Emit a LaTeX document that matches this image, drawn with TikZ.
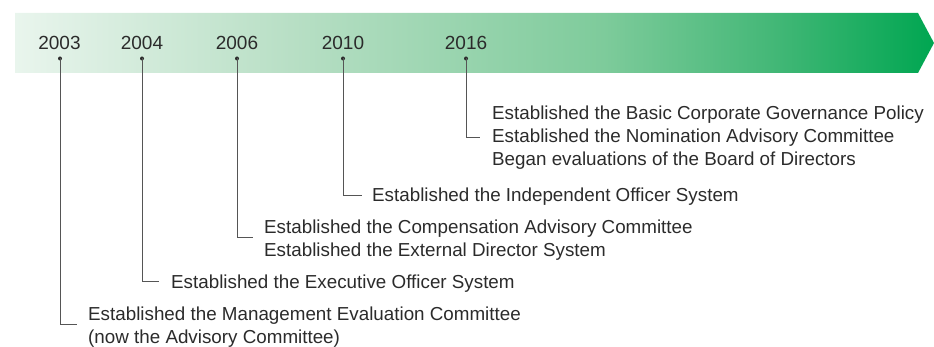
\documentclass[tikz,border=0pt]{standalone}
\usepackage{fontspec}
\setmainfont{Liberation Sans}
\definecolor{gA}{HTML}{E9F5ED}
\definecolor{gB}{HTML}{B8DFC5}
\definecolor{gC}{HTML}{7ECB9B}
\definecolor{gD}{HTML}{45B878}
\definecolor{gE}{HTML}{00A651}
\definecolor{txt}{HTML}{2B2B2B}
\definecolor{ln}{HTML}{555555}
\pgfdeclarehorizontalshading{bandshade}{100bp}{color(0bp)=(gA); color(25bp)=(gA); color(40bp)=(gB); color(57bp)=(gC); color(66bp)=(gD); color(75bp)=(gE); color(100bp)=(gE)}
\begin{document}
\begin{tikzpicture}[x=1pt,y=-1pt,
  year/.style={font=\fontsize{19}{22}\selectfont, text=txt, inner sep=0pt, anchor=base},
  event/.style={font=\fontsize{18.8}{23}\selectfont, text=txt, inner sep=0pt, anchor=base west, align=left},
  dot/.style={circle, fill=txt, inner sep=0pt, minimum size=4pt},
  conn/.style={draw=ln, line width=0.9pt}]
\useasboundingbox (0,0) rectangle (934,347);
\path[shading=bandshade] (15,13) -- (918,13) -- (934,43) -- (918,73) -- (15,73) -- cycle;
% years
\node[year] (y2003) at (59.5,50) {2003};
\node[year] (y2004) at (142,50) {2004};
\node[year] (y2006) at (237,50) {2006};
\node[year] (y2010) at (343,50) {2010};
\node[year] (y2016) at (466,50) {2016};
% dots
\node[dot] (d2003) at (60,58.5) {};
\node[dot] (d2004) at (142,58.5) {};
\node[dot] (d2006) at (237,58.5) {};
\node[dot] (d2010) at (343,58.5) {};
\node[dot] (d2016) at (466,58.5) {};
% corners and ends
\coordinate (c2003) at (60,324);   \coordinate (e2003) at (77,324);
\coordinate (c2004) at (142,281);  \coordinate (e2004) at (159,281);
\coordinate (c2006) at (237,237);  \coordinate (e2006) at (253,237);
\coordinate (c2010) at (343,195.5);\coordinate (e2010) at (362,195.5);
\coordinate (c2016) at (466,137);  \coordinate (e2016) at (480,137);
% connectors
\draw[conn] (d2003.center) -- (c2003) -- (e2003);
\draw[conn] (d2004.center) -- (c2004) -- (e2004);
\draw[conn] (d2006.center) -- (c2006) -- (e2006);
\draw[conn] (d2010.center) -- (c2010) -- (e2010);
\draw[conn] (d2016.center) -- (c2016) -- (e2016);
% events (base anchor = baseline of last line)
\node[event] (t2016) at (492,166) {Established the Basic Corporate Governance Policy\\Established the Nomination Advisory Committee\\Began evaluations of the Board of Directors};
\node[event] (t2010) at (372,201.5) {Established the Independent Officer System};
\node[event] (t2006) at (264,257) {Established the Compensation Advisory Committee\\Established the External Director System};
\node[event] (t2004) at (171,288.5) {Established the Executive Officer System};
\node[event] (t2003) at (88,343) {Established the Management Evaluation Committee\\(now the Advisory Committee)};
\end{tikzpicture}
\end{document}
